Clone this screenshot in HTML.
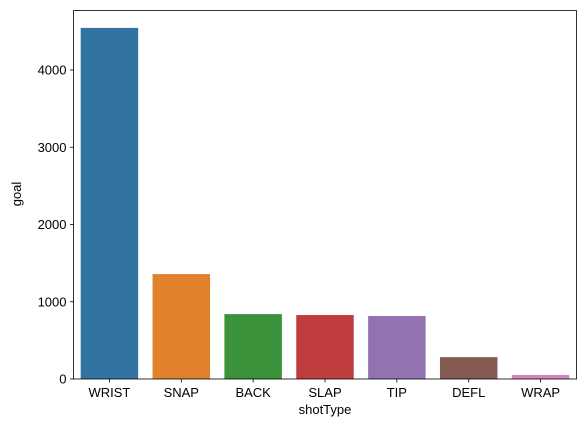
<!DOCTYPE html>
<html><head><meta charset="utf-8"><style>
body{margin:0;background:#fff;}
svg text{font-family:"Liberation Sans","DejaVu Sans",sans-serif;font-size:13px;fill:#000;}
</style></head><body>
<svg width="580" height="432" xmlns="http://www.w3.org/2000/svg">
<g id="marks"></g>
<rect x="73.5" y="10.5" width="503" height="368.5" fill="none" stroke="#000" stroke-width="0.8"/>
<g id="axes"></g>
<text x="325" y="414" text-anchor="middle">shotType</text>
<text transform="translate(21,194) rotate(-90)" text-anchor="middle">goal</text>
</svg>
<script>
const categories=["WRIST","SNAP","BACK","SLAP","TIP","DEFL","WRAP"];
const goals=[4545,1358,840,828,815,283,52];
const yTicks=[0,1000,2000,3000,4000];
const colors=["#3274a1","#e1812c","#3a923a","#c03d3e","#9372b2","#845b53","#d684bd"];
const x0=73.5,x1=576.5,y0=379,pxPer=0.07725;
const band=(x1-x0)/categories.length;
const xPos=i=>x0+band*i+band/2;
const yPos=v=>y0-v*pxPer;
const ns="http://www.w3.org/2000/svg";
const marks=document.getElementById('marks'),axes=document.getElementById('axes');
categories.forEach((c,i)=>{
 const r=document.createElementNS(ns,'rect');
 
 
 const w=band*0.8;
 r.setAttribute('x',xPos(i)-w/2);r.setAttribute('width',w);
 r.setAttribute('y',yPos(goals[i]));r.setAttribute('height',y0-yPos(goals[i]));
 r.setAttribute('fill',colors[i]);marks.appendChild(r);
 const t=document.createElementNS(ns,'line');
 
 
 t.setAttribute('x1',xPos(i));t.setAttribute('x2',xPos(i));t.setAttribute('y1',y0);t.setAttribute('y2',y0+3.5);
 t.setAttribute('stroke','#000');t.setAttribute('stroke-width','0.8');axes.appendChild(t);
 const l=document.createElementNS(ns,'text');
 
 
 l.setAttribute('x',xPos(i));l.setAttribute('y',y0+18);l.setAttribute('text-anchor','middle');
 l.textContent=c;axes.appendChild(l);
});
yTicks.forEach(v=>{
 const t=document.createElementNS(ns,'line');
 
 
 t.setAttribute('x1',x0-3.5);t.setAttribute('x2',x0);t.setAttribute('y1',yPos(v));t.setAttribute('y2',yPos(v));
 t.setAttribute('stroke','#000');t.setAttribute('stroke-width','0.8');axes.appendChild(t);
 const l=document.createElementNS(ns,'text');
 
 
 l.setAttribute('x',x0-7);l.setAttribute('y',yPos(v)+4.5);l.setAttribute('text-anchor','end');
 l.textContent=v;axes.appendChild(l);
});
</script>
</body></html>
